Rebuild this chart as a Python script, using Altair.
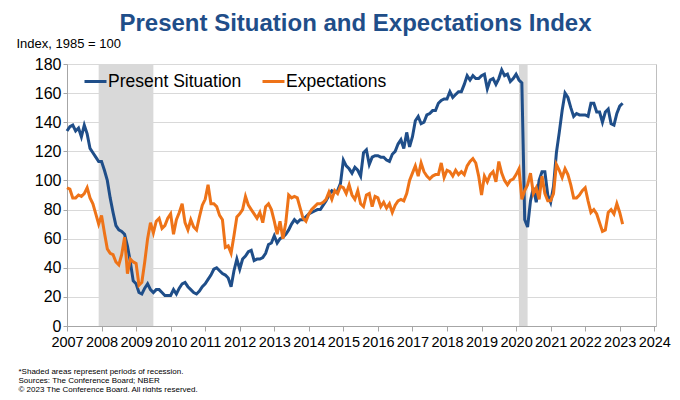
import altair as alt
import pandas as pd

# ---------------- data (monthly, Jan 2007 .. Feb 2023) ----------------
start_year = 2007
present_situation = [
    134, 137, 138, 134, 136, 130, 138, 132, 122, 119, 116, 113,   # 2007
    113, 107, 100, 88, 78, 69, 66, 65, 63, 55, 44, 31,            # 2008
    29, 23, 22, 26, 29, 25, 23, 25, 25, 23, 21, 21,               # 2009
    21, 25, 22, 26, 29, 30, 27, 25, 23, 22, 24, 27,               # 2010
    29, 32, 35, 39, 40, 38, 36, 35, 33, 27, 38, 46,               # 2011
    39, 46, 48, 51, 52, 45, 46, 46, 47, 50, 56, 57,               # 2012
    62, 57, 60, 61, 63, 66, 70, 73, 71, 73, 73, 75,               # 2013
    77, 78, 79, 80, 80, 83, 86, 90, 93, 92, 93, 98,               # 2014
    114, 110, 108, 105, 109, 107, 103, 119, 121, 111, 116, 117,   # 2015
    117, 116, 116, 114, 113, 118, 120, 125, 128, 122, 133, 123,   # 2016
    130, 141, 144, 139, 140, 145, 146, 148, 148, 153, 155, 156,   # 2017
    156, 161, 157, 159, 161, 161, 166, 172, 169, 172, 170, 170,   # 2018
    172, 173, 163, 169, 170, 166, 170, 176, 172, 173, 168, 170,   # 2019
    173, 169, 167, 73, 68, 86, 95, 85, 100, 106, 106, 90,         # 2020
    85, 96, 119, 133, 148, 160, 157, 150, 144, 146, 145, 145,     # 2021
    145, 144, 153, 153, 147, 147, 140, 147, 149, 139, 138, 146,   # 2022
    151, 153,                                                     # 2023
]
expectations = [
    95, 94, 88, 88, 90, 89, 91, 95, 88, 84, 77, 70,               # 2007
    76, 64, 53, 50, 49, 44, 42, 49, 61, 36, 46, 44,               # 2008
    43, 28, 30, 44, 60, 71, 64, 72, 74, 67, 69, 74,               # 2009
    77, 63, 73, 78, 84, 71, 66, 73, 68, 66, 75, 83,               # 2010
    87, 97, 84, 84, 82, 76, 73, 54, 55, 50, 62, 75,               # 2011
    77, 80, 89, 83, 80, 77, 74, 78, 71, 82, 84, 80,               # 2012
    72, 63, 72, 60, 71, 90, 88, 89, 88, 81, 74, 72,               # 2013
    77, 80, 82, 84, 84, 85, 87, 92, 87, 93, 91, 96,               # 2014
    95, 91, 97, 90, 87, 93, 84, 82, 90, 91, 82, 89,               # 2015
    88, 82, 85, 81, 84, 78, 83, 86, 87, 86, 91, 100,              # 2016
    105, 110, 103, 112, 106, 103, 101, 103, 104, 104, 112, 102,   # 2017
    107, 106, 103, 107, 104, 106, 104, 110, 113, 115, 112, 103,   # 2018
    90, 103, 99, 104, 106, 99, 113, 105, 100, 97, 100, 101,       # 2019
    104, 108, 87, 93, 97, 105, 91, 95, 87, 103, 91, 86,           # 2020
    86, 91, 111, 107, 102, 108, 104, 97, 88, 88, 90, 93,          # 2021
    95, 86, 78, 80, 77, 71, 65, 66, 78, 80, 77, 84,               # 2022
    78, 70,                                                       # 2023
]
series_names = ["Present Situation", "Expectations"]
recession_start = [2007 + 11 / 12, 2020 + 1 / 12]
recession_end = [2009 + 6 / 12, 2020 + 4 / 12]
x_ticks = list(range(2007, 2025))
y_ticks = list(range(0, 181, 20))

title_text = "Present Situation and Expectations Index"
y_title = "Index, 1985 = 100"
footnote = [
    "*Shaded areas represent periods of recession.",
    "Sources: The Conference Board; NBER",
    "\u00a9 2023 The Conference Board. All rights reserved.",
]

BLUE = "#1F4E89"
ORANGE = "#EE7318"
FONT = "Liberation Sans"

rows = []
for name, vals in zip(series_names, [present_situation, expectations]):
    for i, v in enumerate(vals):
        rows.append({"t": start_year + i / 12, "value": v, "series": name})
df = pd.DataFrame(rows)
rec = pd.DataFrame({"start": recession_start, "end": recession_end})

W, H = 589, 262

x_scale = alt.Scale(domain=[2007, 2024.05], nice=False, zero=False)
y_scale = alt.Scale(domain=[0, 180], nice=False)

x_axis = alt.Axis(
    values=x_ticks, format="d", grid=False, tickSize=5, labelPadding=4,
    labelFontSize=14.5, labelFlush=False, labelOverlap=False, labelColor="black",
    domainColor="#A6A6A6", tickColor="#A6A6A6",
    title=footnote, titleFontSize=8, titleFontWeight="normal", titleColor="black",
    titleAlign="left", titleAnchor="start", titleBaseline="top", titleLineHeight=9,
    titleX=-49, titleY=41,
)
y_axis = alt.Axis(
    values=y_ticks, grid=True, gridColor="#D9D9D9", tickSize=4, labelPadding=2,
    labelFontSize=16, labelColor="black", domainColor="#A6A6A6", tickColor="#A6A6A6",
    title=y_title, titleAngle=0, titleFontSize=13, titleFontWeight="normal",
    titleColor="black", titleAlign="left", titleBaseline="alphabetic",
    titleX=-51, titleY=-17,
)

shade = alt.Chart(rec).mark_rect(color="#D9D9D9").encode(
    x=alt.X("start:Q", scale=x_scale, axis=x_axis),
    x2="end:Q",
    y=alt.datum(0, scale=y_scale, axis=y_axis),
    y2=alt.datum(180),
)

lines = alt.Chart(df).mark_line(strokeWidth=3).encode(
    x=alt.X("t:Q", scale=x_scale, axis=x_axis),
    y=alt.Y("value:Q", scale=y_scale, axis=y_axis),
    color=alt.Color(
        "series:N",
        scale=alt.Scale(domain=series_names, range=[BLUE, ORANGE]),
        legend=alt.Legend(
            title=None, orient="none", legendX=16, legendY=5, direction="horizontal",
            symbolType="stroke", symbolSize=484, symbolStrokeWidth=3,
            labelFontSize=17.5, labelOffset=0, columnPadding=14, padding=0,
            labelColor="black", labelLimit=300,
        ),
    ),
    detail="series:N",
)

chart = (
    alt.layer(shade, lines)
    .properties(
        width=W, height=H,
        title=alt.TitleParams(
            title_text, fontSize=24, fontWeight="bold", color=BLUE,
            anchor="middle", offset=1, dx=-6, font=FONT,
        ),
        autosize=alt.AutoSizeParams(type="none"),
        padding={"left": 59, "top": 56, "right": 16, "bottom": 66},
    )
    .configure(font=FONT)
    .configure_view(stroke="#BFBFBF")
)

chart.save("out.html", embed_options={"renderer": "svg", "actions": False})
